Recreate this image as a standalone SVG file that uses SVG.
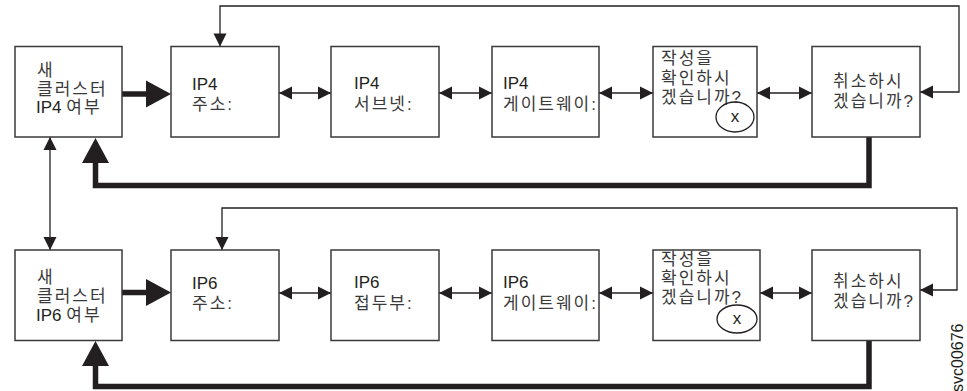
<svg xmlns="http://www.w3.org/2000/svg" width="967" height="391" viewBox="0 0 967 391">
<style>
.box{fill:#fff;stroke:#3a3a3a;stroke-width:1.5}
.t{font-family:"Liberation Sans","Noto Sans CJK KR",sans-serif;font-size:17px;fill:#231f20}
.k{letter-spacing:2px;fill:#3a3a3a}
.thin{fill:none;stroke:#231f20;stroke-width:1.3}
.thick{fill:none;stroke:#231f20;stroke-width:5.5;stroke-linejoin:miter}
.circ{fill:none;stroke:#231f20;stroke-width:1.3}
</style>
<defs>
<marker id="sm" markerUnits="userSpaceOnUse" markerWidth="14" markerHeight="14" viewBox="0 0 14 14" refX="13" refY="6.5" orient="auto-start-reverse" overflow="visible">
<path d="M0,0 L13,6.5 L0,13 z" fill="#231f20"/>
</marker>
<marker id="big" markerUnits="userSpaceOnUse" markerWidth="26" markerHeight="28" viewBox="0 0 26 28" refX="0" refY="13.5" orient="auto" overflow="visible">
<path d="M0,0 L25,13.5 L0,27 z" fill="#231f20"/>
</marker>
</defs>

<g id="connectors">
<path class="thick" d="M122,94 H146" marker-end="url(#big)"/>
<path class="thick" d="M122,292.5 H146" marker-end="url(#big)"/>
<path class="thick" d="M869,137 V185.5 H95.5 V163" marker-end="url(#big)"/>
<path class="thick" d="M869,341 V386.5 H95.5 V366" marker-end="url(#big)"/>
<path class="thin" d="M279,93 H331" marker-start="url(#sm)" marker-end="url(#sm)"/>
<path class="thin" d="M439,93 H492" marker-start="url(#sm)" marker-end="url(#sm)"/>
<path class="thin" d="M599,93 H653" marker-start="url(#sm)" marker-end="url(#sm)"/>
<path class="thin" d="M757,93 H812" marker-start="url(#sm)" marker-end="url(#sm)"/>
<path class="thin" d="M279,293 H331" marker-start="url(#sm)" marker-end="url(#sm)"/>
<path class="thin" d="M439,293 H492" marker-start="url(#sm)" marker-end="url(#sm)"/>
<path class="thin" d="M599,293 H653" marker-start="url(#sm)" marker-end="url(#sm)"/>
<path class="thin" d="M760,293 H812" marker-start="url(#sm)" marker-end="url(#sm)"/>
<path class="thin" d="M50,137 V250" marker-start="url(#sm)" marker-end="url(#sm)"/>
<path class="thin" d="M220,46.5 V6 H959 V92 H920" marker-start="url(#sm)" marker-end="url(#sm)"/>
<path class="thin" d="M222,250 V208 H957 V290 H920" marker-start="url(#sm)" marker-end="url(#sm)"/>
</g>

<g id="n-new-ip4">
<rect class="box" x="15" y="46.5" width="107" height="90.5"/>
<text class="t"><tspan class="k" x="37" y="76">새</tspan><tspan class="k" x="37" y="95">클러스터</tspan><tspan x="36" y="113">IP4 </tspan><tspan class="k">여부</tspan></text>
</g>
<g id="n-ip4-addr">
<rect class="box" x="171" y="46.5" width="108" height="90.5"/>
<text class="t"><tspan x="192" y="90">IP4</tspan><tspan class="k" x="192" y="110">주소:</tspan></text>
</g>
<g id="n-ip4-subnet">
<rect class="box" x="331" y="46.5" width="108" height="90.5"/>
<text class="t"><tspan x="354" y="89">IP4</tspan><tspan class="k" x="354" y="110">서브넷:</tspan></text>
</g>
<g id="n-ip4-gw">
<rect class="box" x="492" y="46.5" width="107" height="90.5"/>
<text class="t"><tspan x="503" y="89">IP4</tspan><tspan class="k" x="503" y="110">게이트웨이:</tspan></text>
</g>
<g id="n-ip4-confirm">
<rect class="box" x="653" y="46.5" width="104" height="90.5"/>
<text class="t"><tspan class="k" x="661" y="64">작성을</tspan><tspan class="k" x="661" y="84">확인하시</tspan><tspan class="k" x="661" y="103">겠습니까?</tspan></text>
<ellipse class="circ" cx="735" cy="117" rx="19" ry="15"/>
<text class="t" x="735" y="122" text-anchor="middle">x</text>
</g>
<g id="n-ip4-cancel">
<rect class="box" x="812" y="46.5" width="108" height="90.5"/>
<text class="t"><tspan class="k" x="833" y="87">취소하시</tspan><tspan class="k" x="833" y="107">겠습니까?</tspan></text>
</g>

<g id="n-new-ip6">
<rect class="box" x="15" y="250" width="107" height="90.5"/>
<text class="t"><tspan class="k" x="37" y="283">새</tspan><tspan class="k" x="37" y="302">클러스터</tspan><tspan x="36" y="321">IP6 </tspan><tspan class="k">여부</tspan></text>
</g>
<g id="n-ip6-addr">
<rect class="box" x="171" y="250" width="108" height="90.5"/>
<text class="t"><tspan x="192" y="289">IP6</tspan><tspan class="k" x="192" y="309">주소:</tspan></text>
</g>
<g id="n-ip6-prefix">
<rect class="box" x="331" y="250" width="108" height="90.5"/>
<text class="t"><tspan x="354" y="288">IP6</tspan><tspan class="k" x="354" y="309">접두부:</tspan></text>
</g>
<g id="n-ip6-gw">
<rect class="box" x="492" y="250" width="107" height="90.5"/>
<text class="t"><tspan x="503" y="288">IP6</tspan><tspan class="k" x="503" y="309">게이트웨이:</tspan></text>
</g>
<g id="n-ip6-confirm">
<rect class="box" x="653" y="250" width="107" height="90.5"/>
<text class="t"><tspan class="k" x="661" y="265">작성을</tspan><tspan class="k" x="661" y="284">확인하시</tspan><tspan class="k" x="661" y="303">겠습니까?</tspan></text>
<ellipse class="circ" cx="737" cy="319" rx="20" ry="14"/>
<text class="t" x="737" y="324" text-anchor="middle">x</text>
</g>
<g id="n-ip6-cancel">
<rect class="box" x="812" y="250" width="108" height="90.5"/>
<text class="t"><tspan class="k" x="833" y="287">취소하시</tspan><tspan class="k" x="833" y="307">겠습니까?</tspan></text>
</g>

<text class="t" transform="translate(963,392) rotate(-90)" style="font-size:16px">svc00676</text>
</svg>
